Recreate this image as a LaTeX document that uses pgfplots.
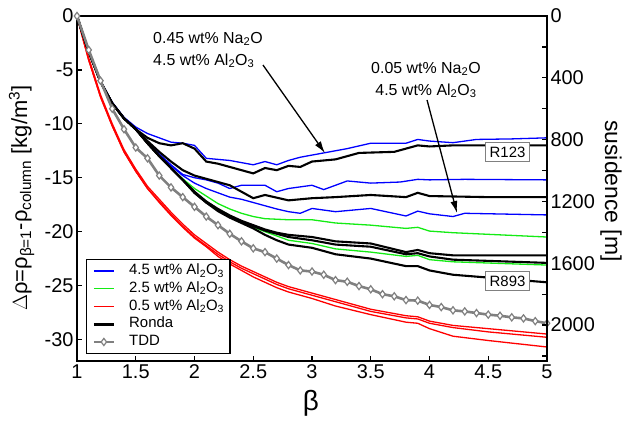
\documentclass[border=0pt]{standalone}
\usepackage{fontspec}
\setmainfont{Liberation Sans}
\usepackage{pgfplots}
\pgfplotsset{compat=1.18}
\usetikzlibrary{arrows.meta}
\definecolor{tddgray}{RGB}{128,128,128}
\definecolor{cblue}{RGB}{0,0,255}
\definecolor{cgreen}{RGB}{20,235,20}
\definecolor{cred}{RGB}{255,0,0}
\begin{document}
\begin{tikzpicture}
\pgfplotsset{
  bl/.style={cblue, line width=1.3bp},
  gr/.style={cgreen, line width=1.3bp},
  rd/.style={cred, line width=1.3bp},
  bk/.style={black, line width=2.1bp},
  td/.style={tddgray, line width=2.6bp, mark=diamond*, mark size=3.6bp, mark options={fill=white, draw=tddgray, line width=1.2bp, solid}},
}
\begin{axis}[
  name=main,
  scale only axis, width=470bp, height=345bp,
  xmin=1, xmax=5, ymin=-32, ymax=0,
  xtick={1,1.5,2,2.5,3,3.5,4,4.5,5},
  xticklabels={1,1.5,2,2.5,3,3.5,4,4.5,5},
  ytick={-30,-25,-20,-15,-10,-5,0},
  yticklabels={-30,-25,-20,-15,-10,-5,0},
  xtick pos=left, ytick pos=left,
  tick align=inside,
  major tick length=5bp,
  tick style={black, line width=1.2bp},
  axis line style={line width=1.6bp},
  tick label style={font=\fontsize{20}{24}\selectfont},
  /pgf/number format/assume math mode=true,
  legend image code/.code={\draw[mark repeat=2,mark phase=2,#1] plot coordinates {(0bp,0bp) (10bp,0bp) (20bp,0bp)};},
  legend style={at={(axis description cs:0.019,0.02)}, anchor=south west,
    draw=black, line width=1.3bp, fill=white,
    font=\fontsize{15}{17}\selectfont,
    inner xsep=6bp, inner ysep=4bp,
    nodes={inner sep=0bp, text height=11bp, text depth=4bp, anchor=west},
    row sep=2.7bp, column sep=14bp},
  legend cell align=left,
  clip=true,
]
% 4.5 wt% Al2O3 (blue)
\addplot[bl, forget plot] coordinates {(1,0)(1.05,-1.7)(1.1,-3.3)(1.2,-6.0)(1.3,-8.0)(1.4,-9.4)(1.5,-10.3)(1.6,-10.9)(1.7,-11.3)(1.8,-11.7)(1.9,-11.8)(2.0,-12.0)(2.1,-13.2)(2.3,-13.4)(2.5,-13.8)(2.6,-13.5)(2.7,-13.8)(2.8,-13.4)(2.9,-13.1)(3.0,-12.9)(3.1,-12.7)(3.3,-12.3)(3.5,-11.8)(3.8,-11.8)(3.9,-11.45)(4.0,-11.6)(4.2,-11.75)(4.4,-11.45)(4.7,-11.4)(5.0,-11.3)};
\addplot[bl, forget plot] coordinates {(1,0)(1.05,-1.7)(1.1,-3.3)(1.2,-6.1)(1.3,-8.1)(1.4,-9.5)(1.5,-10.5)(1.6,-11.6)(1.7,-12.8)(1.8,-13.8)(1.9,-14.7)(2.0,-15.0)(2.1,-15.2)(2.2,-15.5)(2.3,-16.0)(2.4,-15.7)(2.6,-15.7)(2.7,-16.3)(2.8,-16.0)(3.0,-15.7)(3.1,-16.1)(3.3,-15.3)(3.5,-15.5)(3.75,-15.4)(3.9,-15.15)(4.0,-15.2)(4.3,-15.15)(5.0,-15.2)};
\addplot[bl, forget plot] coordinates {(1,0)(1.05,-1.7)(1.1,-3.3)(1.2,-6.1)(1.3,-8.1)(1.4,-9.5)(1.5,-10.5)(1.6,-11.8)(1.7,-12.9)(1.8,-13.9)(1.9,-14.8)(2.0,-15.5)(2.1,-16.0)(2.2,-16.4)(2.3,-16.8)(2.4,-17.0)(2.5,-17.3)(2.6,-17.6)(2.7,-17.9)(2.8,-18.15)(2.9,-18.3)(3.0,-17.85)(3.2,-18.15)(3.5,-17.85)(3.8,-18.55)(3.9,-18.1)(4.0,-18.35)(4.2,-18.6)(4.3,-18.3)(5.0,-18.45)};
% 2.5 wt% Al2O3 (green)
\addplot[gr, forget plot] coordinates {(1,0)(1.05,-1.7)(1.1,-3.3)(1.2,-6.1)(1.3,-8.1)(1.4,-9.5)(1.5,-10.5)(1.6,-11.8)(1.7,-13.0)(1.8,-14.1)(1.9,-15.1)(2.0,-16.0)(2.1,-16.7)(2.2,-17.4)(2.3,-17.9)(2.4,-18.3)(2.5,-18.6)(2.6,-18.8)(2.8,-18.9)(3.0,-18.9)(3.2,-19.2)(3.5,-19.4)(3.8,-19.7)(3.9,-19.6)(4.0,-19.95)(4.2,-20.1)(5.0,-20.5)};
\addplot[gr, forget plot] coordinates {(1,0)(1.05,-1.7)(1.1,-3.3)(1.2,-6.1)(1.3,-8.1)(1.4,-9.5)(1.5,-10.5)(1.6,-11.8)(1.7,-13.0)(1.8,-14.1)(1.9,-15.2)(2.0,-16.3)(2.1,-17.2)(2.2,-17.9)(2.3,-18.5)(2.4,-19.1)(2.5,-19.6)(2.6,-20.0)(2.8,-20.8)(3.0,-21.1)(3.2,-21.6)(3.5,-21.9)(3.8,-22.3)(3.9,-22.2)(4.0,-22.6)(4.2,-22.8)(5.0,-23.1)};
% 0.5 wt% Al2O3 (red)
\addplot[rd, forget plot] coordinates {(1,0)(1.05,-2.0)(1.1,-3.9)(1.2,-7.3)(1.3,-10.0)(1.4,-12.4)(1.5,-14.2)(1.6,-15.8)(1.7,-17.0)(1.8,-18.2)(1.9,-19.3)(2.0,-20.3)(2.1,-21.1)(2.2,-21.9)(2.3,-22.6)(2.4,-23.2)(2.5,-23.7)(2.6,-24.2)(2.7,-24.7)(2.8,-25.1)(2.9,-25.4)(3.0,-25.7)(3.1,-26.0)(3.2,-26.3)(3.3,-26.6)(3.5,-27.2)(3.8,-27.8)(3.9,-27.9)(4.0,-28.3)(4.2,-28.7)(4.5,-29.0)(5.0,-29.5)};
\addplot[rd, forget plot] coordinates {(1,0)(1.05,-2.1)(1.1,-4.1)(1.2,-7.5)(1.3,-10.2)(1.4,-12.6)(1.5,-14.4)(1.6,-16.0)(1.7,-17.2)(1.8,-18.4)(1.9,-19.5)(2.0,-20.5)(2.1,-21.3)(2.2,-22.1)(2.3,-22.8)(2.4,-23.4)(2.5,-23.9)(2.6,-24.4)(2.7,-24.9)(2.8,-25.3)(2.9,-25.6)(3.0,-25.9)(3.1,-26.2)(3.2,-26.5)(3.3,-26.8)(3.5,-27.4)(3.8,-28.0)(3.9,-28.1)(4.0,-28.5)(4.2,-28.9)(4.5,-29.3)(5.0,-29.8)};
\addplot[rd, forget plot] coordinates {(1,0)(1.05,-2.1)(1.1,-4.1)(1.2,-7.5)(1.3,-10.2)(1.4,-12.6)(1.5,-14.4)(1.6,-16.0)(1.7,-17.3)(1.8,-18.5)(1.9,-19.6)(2.0,-20.6)(2.1,-21.4)(2.2,-22.3)(2.3,-23.0)(2.4,-23.6)(2.5,-24.2)(2.6,-24.7)(2.7,-25.2)(2.8,-25.6)(2.9,-25.9)(3.0,-26.2)(3.2,-26.9)(3.5,-27.7)(3.8,-28.4)(3.9,-28.5)(4.0,-29.0)(4.2,-29.7)(4.5,-30.1)(5.0,-30.7)};
% Ronda (black)
\addplot[bk, forget plot] coordinates {(1,0)(1.05,-1.7)(1.1,-3.3)(1.2,-6.1)(1.3,-8.1)(1.4,-9.5)(1.5,-10.5)(1.6,-11.3)(1.7,-11.8)(1.8,-12.0)(1.9,-11.8)(2.0,-12.3)(2.1,-13.5)(2.2,-13.7)(2.3,-14.0)(2.4,-14.3)(2.5,-14.6)(2.6,-14.1)(2.7,-14.3)(2.8,-13.9)(2.9,-14.0)(3.0,-13.5)(3.2,-13.3)(3.4,-12.7)(3.7,-12.6)(3.9,-12.0)(4.0,-12.1)(4.2,-12.0)(5.0,-12.0)};
\addplot[bk, forget plot] coordinates {(1,0)(1.05,-1.7)(1.1,-3.3)(1.2,-6.1)(1.3,-8.1)(1.4,-9.5)(1.5,-10.5)(1.6,-11.6)(1.7,-12.6)(1.8,-13.5)(1.9,-14.3)(2.0,-14.8)(2.1,-15.1)(2.2,-15.4)(2.3,-15.7)(2.4,-16.3)(2.5,-16.9)(2.6,-16.6)(2.8,-17.1)(3.0,-16.9)(3.2,-16.8)(3.5,-16.6)(3.8,-16.8)(3.9,-16.4)(4.0,-16.7)(4.5,-16.8)(5.0,-16.8)};
\addplot[bk, forget plot] coordinates {(1,0)(1.05,-1.7)(1.1,-3.3)(1.2,-6.1)(1.3,-8.1)(1.4,-9.5)(1.5,-10.5)(1.6,-11.8)(1.7,-13.0)(1.8,-14.1)(1.9,-15.2)(2.0,-16.3)(2.1,-17.2)(2.2,-17.9)(2.3,-18.5)(2.4,-19.0)(2.5,-19.4)(2.6,-19.8)(2.7,-20.1)(2.8,-20.3)(2.9,-20.4)(3.0,-20.5)(3.2,-20.9)(3.5,-21.1)(3.8,-21.9)(3.9,-21.7)(4.0,-22.0)(4.2,-22.2)(5.0,-22.2)};
\addplot[bk, forget plot] coordinates {(1,0)(1.05,-1.7)(1.1,-3.3)(1.2,-6.1)(1.3,-8.1)(1.4,-9.5)(1.5,-10.5)(1.6,-11.8)(1.7,-13.0)(1.8,-14.1)(1.9,-15.2)(2.0,-16.4)(2.1,-17.3)(2.2,-18.0)(2.3,-18.6)(2.4,-19.1)(2.5,-19.5)(2.6,-19.9)(2.7,-20.2)(2.8,-20.5)(3.0,-20.8)(3.2,-21.2)(3.5,-21.4)(3.8,-22.1)(3.9,-22.0)(4.0,-22.3)(4.2,-22.6)(5.0,-22.9)};
\addplot[bk, forget plot] coordinates {(1,0)(1.05,-1.7)(1.1,-3.3)(1.2,-6.1)(1.3,-8.1)(1.4,-9.5)(1.5,-10.5)(1.6,-11.8)(1.7,-13.0)(1.8,-14.1)(1.9,-15.2)(2.0,-16.4)(2.1,-17.3)(2.2,-18.1)(2.3,-18.7)(2.4,-19.2)(2.5,-19.7)(2.6,-20.3)(2.7,-20.8)(2.8,-21.2)(3.0,-21.5)(3.2,-22.1)(3.5,-22.5)(3.8,-23.2)(3.9,-23.2)(4.0,-23.6)(4.2,-24.0)(5.0,-24.7)};
% TDD
\addplot[td, forget plot] coordinates {(1,0)(1.1,-3.15)(1.2,-6.0)(1.3,-8.6)(1.4,-10.5)(1.5,-12.2)(1.6,-13.2)(1.7,-14.8)(1.8,-15.9)(1.9,-16.8)(2.0,-17.7)(2.1,-18.6)(2.2,-19.4)(2.3,-20.2)(2.4,-20.9)(2.5,-21.55)(2.6,-21.9)(2.7,-22.5)(2.8,-23.1)(2.9,-23.6)(3.0,-23.7)(3.1,-24.0)(3.2,-24.5)(3.3,-24.65)(3.4,-25.05)(3.5,-25.35)(3.6,-25.8)(3.7,-26.0)(3.8,-26.35)(3.9,-26.4)(4.0,-26.8)(4.1,-27.0)(4.2,-27.3)(4.3,-27.4)(4.4,-27.55)(4.5,-27.7)(4.6,-27.8)(4.7,-27.95)(4.8,-28.05)(4.9,-28.3)(5.0,-28.5)};
% legend
\addlegendimage{bl}
\addlegendentry{4.5 wt\% Al\textsubscript{2}O\textsubscript{3}}
\addlegendimage{gr}
\addlegendentry{2.5 wt\% Al\textsubscript{2}O\textsubscript{3}}
\addlegendimage{rd}
\addlegendentry{0.5 wt\% Al\textsubscript{2}O\textsubscript{3}}
\addlegendimage{bk, line width=2.6bp}
\addlegendentry{Ronda}
\addlegendimage{td}
\addlegendentry{TDD}
% annotations
\node[anchor=north west, align=left, inner sep=0pt, font=\fontsize{16}{22}\selectfont] at (axis cs:1.647,-1.48) {0.45 wt\% Na\textsubscript{2}O\\4.5 wt\% Al\textsubscript{2}O\textsubscript{3}};
\node[anchor=north, align=center, inner sep=0pt, font=\fontsize{16}{22}\selectfont] at (axis cs:3.97,-4.27) {0.05 wt\% Na\textsubscript{2}O\\4.5 wt\% Al\textsubscript{2}O\textsubscript{3}};
\draw[line width=1.3bp, -{Latex[length=12bp,width=7bp]}] (axis cs:2.583,-4.55) -- (axis cs:3.11,-12.71);
\draw[line width=1.3bp, -{Latex[length=12bp,width=7bp]}] (axis cs:3.979,-7.79) -- (axis cs:4.234,-18.27);
\node[draw=gray, fill=white, line width=0.8bp, inner sep=4.5bp, font=\fontsize{15}{18}\selectfont] at (axis cs:4.664,-12.62) {R123};
\node[draw=gray, fill=white, line width=0.8bp, inner sep=4.5bp, font=\fontsize{15}{18}\selectfont] at (axis cs:4.664,-24.58) {R893};
\end{axis}
\begin{axis}[
  scale only axis, width=470bp, height=345bp,
  xmin=1, xmax=5, ymin=0, ymax=2233, y dir=reverse,
  axis x line=none, axis y line*=right,
  ytick={0,400,800,1200,1600,2000},
  yticklabels={0,400,800,1200,1600,2000},
  minor ytick={200,600,1000,1400,1800,2200},
  tick align=inside,
  major tick length=5bp, minor tick length=5bp,
  tick style={black, line width=1.2bp},
  axis line style={line width=1.6bp, -},
  tick label style={font=\fontsize{20}{24}\selectfont},
  /pgf/number format/assume math mode=true,
]
\addplot[draw=none] coordinates {(1,0)(5,2233)};
\end{axis}
\node[rotate=90, font=\fontsize{22}{26}\selectfont] at ([xshift=-55.5bp, yshift=-9.5bp]main.west) {$\Delta$ρ=ρ\textsubscript{β=1}-ρ\textsubscript{column} [kg/m\textsuperscript{3}]};
\node[font=\fontsize{28}{32}\selectfont] at ([xshift=-1bp, yshift=-42bp]main.south) {β};
\node[rotate=-90, font=\fontsize{23}{27}\selectfont] at ([xshift=64bp, yshift=-2.5bp]main.east) {susidence [m]};
\pgfresetboundingbox
\path[use as bounding box] ([shift={(-77bp,-62bp)}]main.south west) rectangle ([shift={(78bp,16bp)}]main.north east);
\end{tikzpicture}
\end{document}
